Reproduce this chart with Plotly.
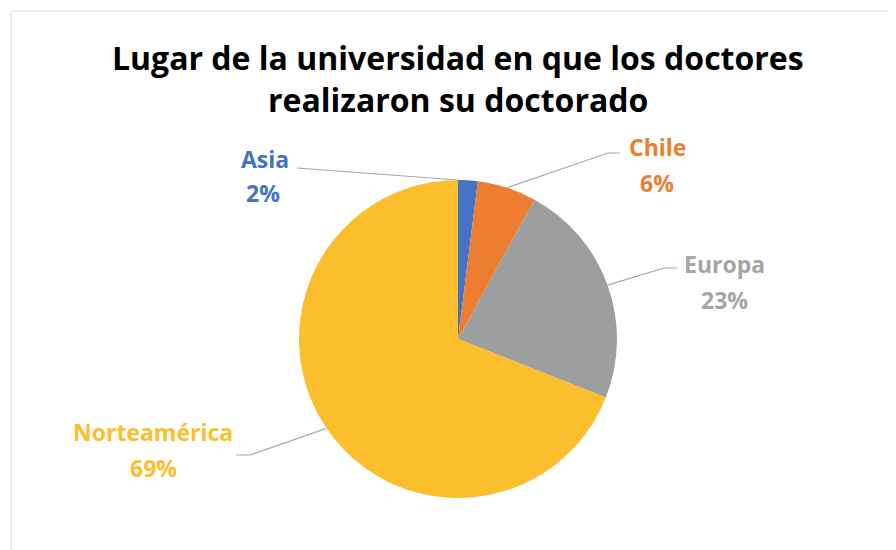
import math
import plotly.graph_objects as go

labels = ["Asia", "Chile", "Europa", "Norteamérica"]
values = [2, 6, 23, 69]
pct_text = ["2%", "6%", "23%", "69%"]
colors = ["#4472C4", "#ED7D31", "#9C9E9F", "#FCBE2C"]
text_colors = ["#4472C4", "#ED7D31", "#A5A5A5", "#FCBE2C"]

W, H = 896, 550
OFF = 8  # page body margin offset
CX, CY, R = 458, 339, 159  # pie centre / radius in screen pixels

# label layout (screen pixel positions): name centre, percent centre
name_pos = [(265, 159), (657, 147), (724, 264), (153, 432)]
pct_pos = [(263, 193), (657, 183), (724, 300), (153, 468)]
# leader lines: (outer end, elbow)
leader = [((297, 168), (297, 168)), ((620, 153), (608, 153)),
          ((677, 268), (664, 268)), ((236, 455), (250, 455))]


def px(x):
    return (x - OFF) / W


def py(y):
    return 1 - (y - OFF) / H


fig = go.Figure(go.Pie(
    labels=labels, values=values, sort=False, direction="clockwise",
    rotation=0, marker=dict(colors=colors, line=dict(width=0)),
    textinfo="none", hoverinfo="label+percent", showlegend=False,
    domain=dict(x=[px(CX - R), px(CX + R)], y=[py(CY + R), py(CY - R)]),
))

shapes = [dict(type="rect", xref="paper", yref="paper",
               x0=px(11), y0=-0.2, x1=1.2, y1=py(11),
               line=dict(color="#D9D9D9", width=1), layer="below")]
annotations = []
total = sum(values)
cum = 0
for i, v in enumerate(values):
    if i == 0:
        ex, ey = CX, CY - R  # Asia leader meets the top of the pie
    else:
        ang = 2 * math.pi * (cum + v / 2) / total
        ex, ey = CX + R * math.sin(ang), CY - R * math.cos(ang)
    cum += v
    (ox, oy), (bx, by) = leader[i]
    path = f"M {px(ox)} {py(oy)} L {px(bx)} {py(by)} L {px(ex)} {py(ey)}"
    shapes.append(dict(type="path", xref="paper", yref="paper", path=path,
                       line=dict(color="#A6A6A6", width=1.2)))
    for (lx, ly), t in ((name_pos[i], labels[i]), (pct_pos[i], pct_text[i])):
        annotations.append(dict(
            x=px(lx), y=py(ly), xref="paper", yref="paper", showarrow=False,
            text=f"<b>{t}</b>",
            font=dict(family="Open Sans", size=23, color=text_colors[i]),
            xanchor="center", yanchor="middle"))

for t, y in (("Lugar de la universidad en que los doctores", 57),
             ("realizaron su doctorado", 100)):
    annotations.append(dict(
        x=px(458), y=py(y), xref="paper", yref="paper", showarrow=False,
        text=f"<b>{t}</b>",
        font=dict(family="Open Sans", size=32, color="#000000"),
        xanchor="center", yanchor="middle"))

fig.update_layout(
    width=W, height=H, margin=dict(l=0, r=0, t=0, b=0),
    paper_bgcolor="white", plot_bgcolor="white",
    shapes=shapes, annotations=annotations,
)
fig.write_html("out.html")
